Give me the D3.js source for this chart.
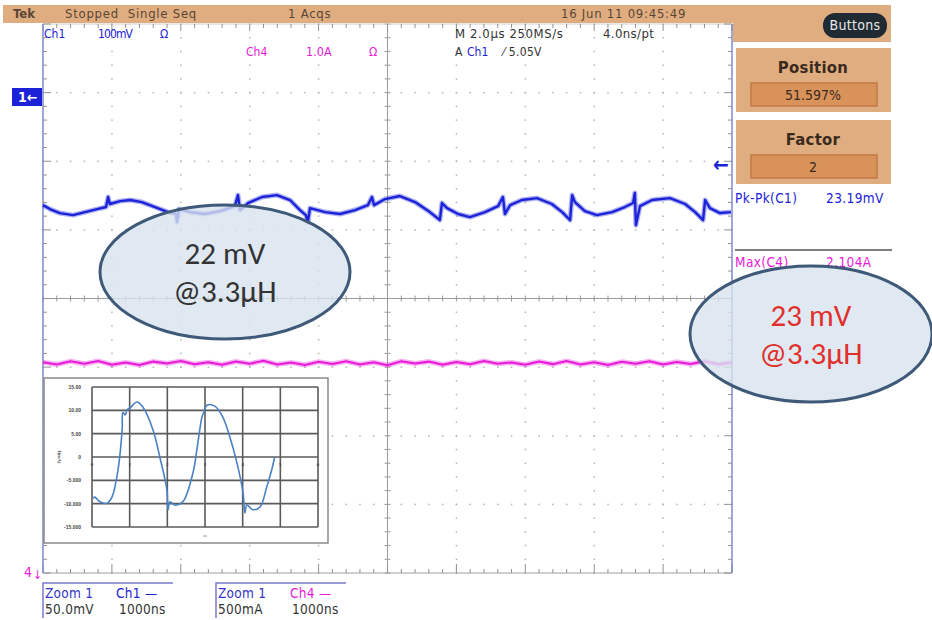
<!DOCTYPE html>
<html>
<head>
<meta charset="utf-8">
<script src="https://cdn.jsdelivr.net/npm/d3@7"></script>
<style>
  body { margin: 0; background: #fff; }
  svg { display: block; }
  .scope { font-family: "DejaVu Sans Condensed", "Liberation Sans Narrow", sans-serif; }
  .note { font-family: Carlito, Lato, "Open Sans", sans-serif; }
</style>
</head>
<body>
<svg id="chart" width="932" height="620"></svg>
<script>
// Ch1 ripple (time in us, 2.0us/div; value in mV, 50mV/div zoom)
var ch1Time = [0.00, 0.20, 0.49, 0.87, 1.22, 1.57, 1.83, 1.89, 1.94, 2.24, 2.53, 2.87, 3.25, 3.63, 3.86, 3.89, 3.95,
  4.27, 4.70, 5.14, 5.57, 5.66, 5.72, 5.95, 6.36, 6.79, 7.17, 7.46, 7.63, 7.69, 7.75, 8.19, 8.62, 9.06, 9.43,
  9.55, 9.61, 9.93, 10.36, 10.80, 11.23, 11.52, 11.58, 11.73, 12.05, 12.39, 12.83, 13.21, 13.35, 13.41, 13.56,
  13.90, 14.34, 14.77, 15.07, 15.30, 15.36, 15.44, 15.73, 16.08, 16.52, 16.89, 17.13, 17.18, 17.21, 17.33,
  17.68, 18.20, 18.64, 18.93, 19.16, 19.22, 19.36, 19.65, 19.97];
var ch1mV = [1.8, -1.1, -4.0, -5.5, -3.3, -1.1, 0.4, 7.7, 2.6, 4.7, 5.5, 4.0, 0.4, -3.3, -4.7, -10.6, -1.1,
  -3.3, -4.7, -2.6, 1.1, 9.1, -1.8, 3.3, 7.7, 9.1, 5.5, -1.8, -5.5, -10.6, -0.4, -3.3, -4.7, -1.8, 1.8,
  7.7, 1.8, 6.2, 8.4, 4.0, -3.3, -9.1, 3.3, -0.4, -4.7, -6.9, -3.3, 1.1, 7.7, -4.7, 1.8,
  5.5, 6.9, 2.6, -3.3, -9.1, 9.1, 4.0, -2.6, -5.5, -3.3, 0.4, 3.3, 10.6, -12.8, 1.1,
  5.5, 6.9, 2.6, -3.3, -9.1, 5.5, -0.4, -4.0, -3.3];

// Ch4 current, flat with noise (mA, 500mA/div zoom)
var ch4Time = [0, 0.4, 0.8, 1.2, 1.6, 2.0, 2.4, 2.8, 3.2, 3.6, 4.0, 4.4, 4.8, 5.2, 5.6, 6.0, 6.4, 6.8, 7.2, 7.6,
  8.0, 8.4, 8.8, 9.2, 9.6, 10.0, 10.4, 10.8, 11.2, 11.6, 12.0, 12.4, 12.8, 13.2, 13.6, 14.0, 14.4, 14.8, 15.2,
  15.6, 16.0, 16.4, 16.8, 17.2, 17.6, 18.0, 18.4, 18.8, 19.2, 19.6, 20.0];
var ch4mA = [5, -10, 12, -6, 15, -12, 4, -15, 10, -4, 14, -9, 6, -13, 11, -5, 16, -10, 3, -14, 9, -7, 13, -11,
  5, -16, 12, -4, 10, -12, 7, -9, 15, -6, 4, -13, 11, -8, 14, -10, 6, -15, 9, -5, 12, -11, 8, -7, 13, -9, 4];

// inset plot (pasted chart)
var insetX = [0.03, 0.08, 0.21, 0.40, 0.53, 0.69, 0.80, 0.82, 0.88, 0.93, 1.01, 1.19, 1.35, 1.62, 1.80, 1.99,
  2.02, 2.07, 2.20, 2.41, 2.68, 2.81, 2.92, 2.97, 3.05, 3.26, 3.47, 3.66, 3.85, 4.01, 4.06, 4.11, 4.27, 4.46,
  4.64, 4.77, 4.85];
var insetY = [-8.8, -8.6, -9.6, -9.9, -8.6, -2.8, 5.8, 9.6, 9.0, 10.1, 10.5, 11.8, 10.7, 5.8, 0, -7.1,
  -11.3, -9.6, -10.3, -9.6, -3.4, 3.0, 8.6, 9.6, 11.1, 10.9, 8.6, 4.3, -1.3, -7.7, -12.0, -10.3, -11.3, -10.7,
  -6.4, -2.8, 0];
var insetYTicks = [15, 10, 5, 0, -5, -10, -15];
var insetYLabels = ["15.00", "10.00", "5.00", "0", "-5.000", "-10.000", "-15.000"];
var insetXTicks = [0, 1, 2, 3, 4, 5, 6];

var svg = d3.select("#chart");
var blue = "#1b22d8", magenta = "#e81ad8", tan = "#e0ad80", tanDark = "#d8925a";

// screen scales
var xDiv = d3.scaleLinear().domain([0, 10]).range([43, 732]);
var yDiv = d3.scaleLinear().domain([-4, 4]).range([573, 24]);
var xT = d3.scaleLinear().domain([0, 20]).range([43, 732]);
var ch1Pos = 1.325, ch4Pos = -0.94;
var y1 = function (v) { return yDiv(ch1Pos + v / 50); };
var y4 = function (v) { return yDiv(ch4Pos + v / 500); };

// graticule
var grat = svg.append("g");
var minors = d3.range(0, 51).map(function (d) { return d / 5; });
var minorsY = d3.range(0, 41).map(function (d) { return d / 5 - 4; });
[1, 2, 3, -1, -2, -3].forEach(function (r) {
  grat.selectAll(null).data(minors).enter().append("rect")
    .attr("x", function (d) { return xDiv(d) - 0.7; }).attr("y", yDiv(r) - 0.7)
    .attr("width", 1.5).attr("height", 1.5).attr("fill", "#b4b4b4");
});
[1, 2, 3, 4, 6, 7, 8, 9].forEach(function (c) {
  grat.selectAll(null).data(minorsY).enter().append("rect")
    .attr("x", xDiv(c) - 0.7).attr("y", function (d) { return yDiv(d) - 0.7; })
    .attr("width", 1.5).attr("height", 1.5).attr("fill", "#b4b4b4");
});
// center ruler lines
grat.append("line").attr("x1", xDiv(0)).attr("x2", xDiv(10)).attr("y1", yDiv(0)).attr("y2", yDiv(0))
  .attr("stroke", "#9a9a9a");
grat.append("line").attr("x1", xDiv(5)).attr("x2", xDiv(5)).attr("y1", yDiv(4)).attr("y2", yDiv(-4))
  .attr("stroke", "#9a9a9a");
grat.selectAll(null).data(minors).enter().append("line")
  .attr("x1", function (d) { return xDiv(d); }).attr("x2", function (d) { return xDiv(d); })
  .attr("y1", yDiv(0) - 3).attr("y2", yDiv(0) + 3).attr("stroke", "#9a9a9a");
grat.selectAll(null).data(minorsY).enter().append("line")
  .attr("x1", xDiv(5) - 3).attr("x2", xDiv(5) + 3)
  .attr("y1", function (d) { return yDiv(d); }).attr("y2", function (d) { return yDiv(d); }).attr("stroke", "#9a9a9a");
// edge rulers
grat.append("line").attr("x1", xDiv(0)).attr("x2", xDiv(10)).attr("y1", yDiv(-4)).attr("y2", yDiv(-4)).attr("stroke", "#a0a0a0");
grat.append("line").attr("x1", xDiv(0)).attr("x2", xDiv(10)).attr("y1", yDiv(4)).attr("y2", yDiv(4)).attr("stroke", "#d0d0d0");
grat.selectAll(null).data(minors).enter().append("line")
  .attr("x1", function (d) { return xDiv(d); }).attr("x2", function (d) { return xDiv(d); })
  .attr("y1", yDiv(-4)).attr("y2", function (d) { return yDiv(-4) - (d % 1 === 0 ? 9 : 4); })
  .attr("stroke", "#909090");
grat.selectAll(null).data(minors).enter().append("line")
  .attr("x1", function (d) { return xDiv(d); }).attr("x2", function (d) { return xDiv(d); })
  .attr("y1", yDiv(4)).attr("y2", function (d) { return yDiv(4) + (d % 1 === 0 ? 7 : 4); })
  .attr("stroke", "#909090");
[0, 10].forEach(function (c) {
  var dir = c === 0 ? 1 : -1;
  grat.append("line").attr("x1", xDiv(c)).attr("x2", xDiv(c)).attr("y1", yDiv(4)).attr("y2", yDiv(-4))
    .attr("stroke", "#7e88cc").attr("stroke-width", 1.5);
  grat.selectAll(null).data(minorsY).enter().append("line")
    .attr("x1", xDiv(c)).attr("x2", function (d) { return xDiv(c) + dir * (Math.abs(d % 1) < 1e-9 ? 8 : 4); })
    .attr("y1", function (d) { return yDiv(d); }).attr("y2", function (d) { return yDiv(d); })
    .attr("stroke", "#909090");
});

// traces: a soft wide band under a thin core, like the noisy scope trace
var ch1Data = ch1Time.map(function (t, i) { return [t, ch1mV[i]]; });
var ch4Data = ch4Time.map(function (t, i) { return [t, ch4mA[i]]; });
var line4 = d3.line().x(function (d) { return xT(d[0]); }).y(function (d) { return y4(d[1]); });
var line1 = d3.line().x(function (d) { return xT(d[0]); }).y(function (d) { return y1(d[1]); });
svg.append("path").datum(ch4Data).attr("d", line4)
  .attr("fill", "none").attr("stroke", magenta).attr("stroke-width", 5).attr("stroke-opacity", 0.35);
svg.append("path").datum(ch4Data).attr("d", line4)
  .attr("fill", "none").attr("stroke", magenta).attr("stroke-width", 2);
svg.append("path").datum(ch1Data).attr("d", line1)
  .attr("fill", "none").attr("stroke", blue).attr("stroke-width", 5).attr("stroke-opacity", 0.35)
  .attr("stroke-linejoin", "round");
svg.append("path").datum(ch1Data).attr("d", line1)
  .attr("fill", "none").attr("stroke", blue).attr("stroke-width", 2.4).attr("stroke-linejoin", "round");

// inset chart
var inset = svg.append("g");
inset.append("rect").attr("x", 44).attr("y", 378).attr("width", 284).attr("height", 165)
  .attr("fill", "#fff").attr("stroke", "#8a8a8a").attr("stroke-width", 1.5);
var ix = d3.scaleLinear().domain([0, 6]).range([92, 318]);
var iy = d3.scaleLinear().domain([-15, 15]).range([527, 387]);
inset.append("g").attr("transform", "translate(84,0)")
  .call(d3.axisLeft(iy).tickValues(insetYTicks).tickSize(0).tickFormat(function (d, i) { return insetYLabels[i]; }))
  .call(function (g) { g.select(".domain").remove(); g.selectAll("text").attr("font-size", 5).attr("font-weight", "bold").attr("fill", "#444"); });
inset.selectAll(null).data(insetYTicks).enter().append("line")
  .attr("x1", ix(0)).attr("x2", ix(6)).attr("y1", function (d) { return iy(d); }).attr("y2", function (d) { return iy(d); })
  .attr("stroke", "#5a5a5a").attr("stroke-width", 1.6);
inset.selectAll(null).data(insetXTicks).enter().append("line")
  .attr("x1", function (d) { return ix(d); }).attr("x2", function (d) { return ix(d); }).attr("y1", iy(15)).attr("y2", iy(-15))
  .attr("stroke", "#5a5a5a").attr("stroke-width", 1.6);
inset.selectAll(null).data(insetXTicks).enter().append("text")
  .attr("x", function (d) { return ix(d); }).attr("y", iy(0) + 9).attr("text-anchor", "middle")
  .attr("font-size", 5).attr("font-weight", "bold").attr("fill", "#444").text(function (d) { return d; });
inset.append("text").attr("transform", "translate(58," + iy(0) + ") rotate(90)").attr("text-anchor", "middle")
  .attr("font-size", 5).attr("font-weight", "bold").attr("fill", "#444").text("I(mA)");
inset.append("text").attr("x", 205).attr("y", 537).attr("text-anchor", "middle")
  .attr("font-size", 4).attr("fill", "#666").text("us");
inset.append("path").datum(insetX.map(function (v, i) { return [v, insetY[i]]; }))
  .attr("d", d3.line().x(function (d) { return ix(d[0]); }).y(function (d) { return iy(d[1]); }).curve(d3.curveCatmullRom))
  .attr("fill", "none").attr("stroke", "#4a80c4").attr("stroke-width", 1.6);

var txt = function (s, x, y, c) {
  return svg.append("text").attr("class", "scope").attr("x", x).attr("y", y).attr("fill", c)
    .attr("font-size", 11).attr("xml:space", "preserve").text(s);
};

// header bar
svg.append("rect").attr("x", 3).attr("y", 5).attr("width", 888).attr("height", 18).attr("fill", tan);
svg.append("rect").attr("x", 733).attr("y", 5).attr("width", 158).attr("height", 37).attr("fill", tan);
svg.append("rect").attr("x", 823).attr("y", 13).attr("width", 64).attr("height", 25).attr("rx", 12).attr("fill", "#1f2a33");
txt("Buttons", 855, 30, "#e8e8e8").attr("text-anchor", "middle").attr("font-size", 14).attr("letter-spacing", 0.3);
var hdr = [["Tek", 13, true], ["Stopped  Single Seq", 65, false], ["1 Acqs", 288, false], ["16 Jun 11 09:45:49", 561, false]];
hdr.forEach(function (h) {
  txt(h[0], h[1], 18, "#5a4636").attr("font-size", 13).attr("letter-spacing", h[2] ? 0 : 0.75)
    .attr("font-weight", h[2] ? "bold" : "normal");
});

// right side panel boxes
[["Position", "51.597%", 48], ["Factor", "2", 120]].forEach(function (b) {
  var y0 = b[2];
  svg.append("rect").attr("x", 736).attr("y", y0).attr("width", 155).attr("height", 64).attr("fill", tan);
  txt(b[0], 813, y0 + 25, "#3a2a1e").attr("text-anchor", "middle")
    .attr("font-size", 16.5).attr("letter-spacing", 0.3).attr("font-weight", "bold");
  svg.append("rect").attr("x", 751).attr("y", y0 + 35).attr("width", 126).attr("height", 23)
    .attr("fill", tanDark).attr("stroke", "#c07a45").attr("stroke-width", 1.5);
  txt(b[1], 813, y0 + 52, "#3a2a1e").attr("text-anchor", "middle").attr("font-size", 14);
});

// measurements
txt("Pk-Pk(C1)", 735, 203, blue).attr("font-size", 13.5).attr("letter-spacing", 0.4);
txt("23.19mV", 826, 203, blue).attr("font-size", 13.5).attr("letter-spacing", 0.4);
svg.append("line").attr("x1", 735).attr("x2", 892).attr("y1", 250).attr("y2", 250).attr("stroke", "#555").attr("stroke-width", 1.5);
txt("Max(C4)", 735, 267, magenta).attr("font-size", 13.5).attr("letter-spacing", 0.4);
txt("2.104A", 826, 267, magenta).attr("font-size", 13.5).attr("letter-spacing", 0.4);

// channel readouts
txt("Ch1", 44, 38, blue).attr("font-size", 12);
txt("100mV", 98, 38, blue).attr("font-size", 12).attr("letter-spacing", -0.9);
txt("Ω", 160, 38, blue).attr("font-size", 12);
txt("Ch4", 246, 56, magenta).attr("font-size", 12);
txt("1.0A", 306, 56, magenta).attr("font-size", 12.5);
txt("Ω", 369, 56, magenta).attr("font-size", 12);
txt("M 2.0µs 250MS/s", 455, 38, "#333").attr("font-size", 13).attr("letter-spacing", 0.6);
txt("4.0ns/pt", 603, 38, "#333").attr("font-size", 13).attr("letter-spacing", 0.4);
txt("A", 455, 56, "#333").attr("font-size", 12);
txt("Ch1", 467, 56, blue).attr("font-size", 12);
txt("⁄ 5.05V", 503, 56, "#333").attr("font-size", 12).attr("letter-spacing", 0.3);
txt("←", 713, 172, blue).attr("font-size", 21).attr("font-weight", "bold");

// Ch1 ground marker and Ch4 off-screen marker
svg.append("rect").attr("x", 12).attr("y", 88).attr("width", 30).attr("height", 18).attr("fill", blue);
txt("1←", 18, 102, "#fff").attr("font-size", 14).attr("font-weight", "bold");
txt("4", 24, 577, magenta).attr("font-size", 14);
txt("↓", 33, 579, magenta).attr("font-size", 12);

// zoom readouts
[[43, "Ch1 —", blue, "50.0mV", 116, 119], [216, "Ch4 —", magenta, "500mA", 290, 292]].forEach(function (z) {
  var x0 = z[0];
  svg.append("path").attr("d", "M" + x0 + ",618V583H" + (x0 + 130)).attr("fill", "none")
    .attr("stroke", "#7a7ad0").attr("stroke-width", 1.5);
  txt("Zoom 1", x0 + 2, 598, "#3333c8").attr("font-size", 13.5).attr("letter-spacing", 0.3);
  txt(z[1], z[4], 598, z[2]).attr("font-size", 13.5).attr("letter-spacing", 0.3);
  txt(z[3], x0 + 2, 614, "#333").attr("font-size", 13.5).attr("letter-spacing", 0.3);
  txt("1000ns", z[5], 614, "#333").attr("font-size", 13.5).attr("letter-spacing", 0.3);
});

// annotation ellipses
[[225, 272, 125, 67, "22 mV", "#333"], [811, 334, 121, 68, "23 mV", "#e0302c"]].forEach(function (e) {
  svg.append("ellipse").attr("cx", e[0]).attr("cy", e[1]).attr("rx", e[2]).attr("ry", e[3])
    .attr("fill", "#d8e2ef").attr("fill-opacity", 0.8).attr("stroke", "#3e5a78").attr("stroke-width", 3);
  svg.append("text").attr("class", "note").attr("x", e[0]).attr("y", e[1] - 8).attr("text-anchor", "middle")
    .attr("font-size", 31).attr("fill", e[5]).text(e[4]);
  svg.append("text").attr("class", "note").attr("x", e[0]).attr("y", e[1] + 30).attr("text-anchor", "middle")
    .attr("font-size", 31).attr("fill", e[5]).text("@3.3µH");
});
</script>
</body>
</html>
